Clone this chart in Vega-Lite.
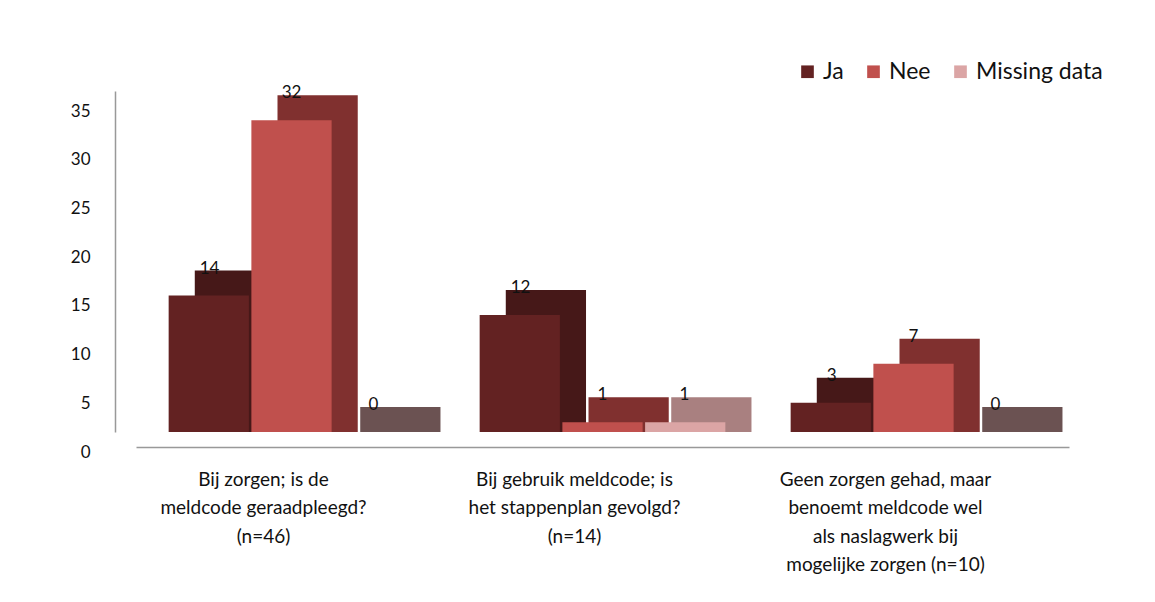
{
  "$schema": "https://vega.github.io/schema/vega-lite/v6.json",
  "width": 933,
  "height": 341,
  "autosize": {"type": "none"},
  "padding": {"left": 136, "top": 91, "right": 86, "bottom": 170},
  "background": "white",
  "config": {
    "view": {"stroke": null},
    "font": "Lato"
  },
  "data": {
    "values": [
      {"vraag": "Bij zorgen; is de meldcode geraadpleegd? (n=46)", "antwoord": "Ja", "aantal": 14},
      {"vraag": "Bij zorgen; is de meldcode geraadpleegd? (n=46)", "antwoord": "Nee", "aantal": 32},
      {"vraag": "Bij zorgen; is de meldcode geraadpleegd? (n=46)", "antwoord": "Missing data", "aantal": 0},
      {"vraag": "Bij gebruik meldcode; is het stappenplan gevolgd? (n=14)", "antwoord": "Ja", "aantal": 12},
      {"vraag": "Bij gebruik meldcode; is het stappenplan gevolgd? (n=14)", "antwoord": "Nee", "aantal": 1},
      {"vraag": "Bij gebruik meldcode; is het stappenplan gevolgd? (n=14)", "antwoord": "Missing data", "aantal": 1},
      {"vraag": "Geen zorgen gehad, maar benoemt meldcode wel als naslagwerk bij mogelijke zorgen (n=10)", "antwoord": "Ja", "aantal": 3},
      {"vraag": "Geen zorgen gehad, maar benoemt meldcode wel als naslagwerk bij mogelijke zorgen (n=10)", "antwoord": "Nee", "aantal": 7},
      {"vraag": "Geen zorgen gehad, maar benoemt meldcode wel als naslagwerk bij mogelijke zorgen (n=10)", "antwoord": "Missing data", "aantal": 0}
    ]
  },
  "encoding": {
    "xOffset": {
      "field": "antwoord",
      "type": "nominal",
      "sort": ["Ja", "Nee", "Missing data"],
      "scale": {"paddingInner": 0.03}
    },
    "y": {
      "field": "aantal",
      "type": "quantitative",
      "stack": null,
      "scale": {"domain": [0, 35], "nice": false},
      "axis": {
        "title": null,
        "values": [0, 5, 10, 15, 20, 25, 30, 35],
        "grid": false,
        "ticks": false,
        "domainColor": "#999999",
        "domainWidth": 1.5,
        "offset": 21,
        "labelPadding": 25,
        "labelOffset": 20,
        "labelFont": "Lato",
        "labelFontSize": 17,
        "labelColor": "#111111"
      }
    }
  },
  "layer": [
    {
      "mark": {"type": "bar", "yOffset": -25, "y2Offset": 0.01},
      "encoding": {
        "x": {
          "field": "vraag",
          "type": "nominal",
          "sort": null,
          "scale": {"paddingInner": 0.21, "paddingOuter": 0.105, "align": 0.9},
          "axis": null
        },
        "y2": {"datum": 0},
        "color": {
          "condition": {"test": "datum.aantal == 0", "value": "#6b5252"},
          "field": "antwoord",
          "type": "nominal",
          "scale": {"domain": ["Ja", "Nee", "Missing data"], "range": ["#461818", "#80302f", "#a98080"]},
          "legend": null
        }
      }
    },
    {
      "mark": {"type": "bar"},
      "encoding": {
        "x": {
          "field": "vraag",
          "type": "nominal",
          "sort": null,
          "scale": {"paddingInner": 0.21, "paddingOuter": 0.105},
          "axis": {
            "title": null,
            "labelAngle": 0,
            "domainColor": "#999999",
            "domainWidth": 1.5,
            "offset": 15,
            "ticks": false,
            "labelPadding": 23,
            "labelOffset": -28,
            "labelFont": "Lato",
            "labelFontSize": 19,
            "labelColor": "#111111",
            "labelLineHeight": 28.5,
            "labelLimit": 400,
            "labelBaseline": "top",
            "labelExpr": "indexof(datum.value, 'Bij zorgen') == 0 ? ['Bij zorgen; is de', 'meldcode geraadpleegd?', '(n=46)'] : indexof(datum.value, 'Bij gebruik') == 0 ? ['Bij gebruik meldcode; is', 'het stappenplan gevolgd?', '(n=14)'] : ['Geen zorgen gehad, maar', 'benoemt meldcode wel', 'als naslagwerk bij', 'mogelijke zorgen (n=10)']"
          }
        },
        "color": {
          "field": "antwoord",
          "type": "nominal",
          "scale": {"domain": ["Ja", "Nee", "Missing data"], "range": ["#632222", "#c0504d", "#dba5a5"]},
          "legend": {
            "title": null,
            "orient": "none",
            "legendX": 660,
            "legendY": -31,
            "direction": "horizontal",
            "symbolType": "square",
            "symbolSize": 160,
            "symbolStrokeWidth": 0,
            "labelFont": "Lato",
            "labelFontSize": 23,
            "labelColor": "#111111",
            "labelOffset": 4,
            "columnPadding": 18,
            "padding": 0
          }
        }
      }
    },
    {
      "mark": {"type": "text", "dy": -27, "font": "Lato", "fontSize": 17, "color": "#111111", "baseline": "middle"},
      "encoding": {
        "x": {
          "field": "vraag",
          "type": "nominal",
          "sort": null,
          "scale": {"paddingInner": 0.21, "paddingOuter": 0.105},
          "axis": null
        },
        "text": {"field": "aantal", "type": "quantitative"}
      }
    }
  ],
  "resolve": {"scale": {"color": "independent", "x": "independent", "xOffset": "independent"}}
}
